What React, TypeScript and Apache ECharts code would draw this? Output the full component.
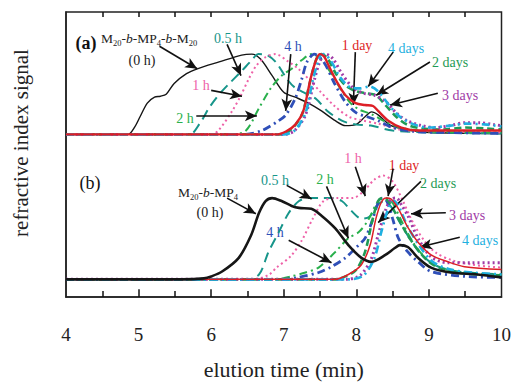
import React, { useEffect, useRef } from "react";
import * as echarts from "echarts";

const FONT = "'Liberation Serif', 'Times New Roman', serif";

// x axis
const X_MIN = 4;
const X_MAX = 10;
const Y_MAX = 291;
const MAJOR_TICKS = [5, 6, 7, 8, 9];
const MINOR_TICKS = [4.5, 5.5, 6.5, 7.5, 8.5, 9.5];

// panel offsets (signal units)
const BASE_A = 166;
const BASE_B = 18;

// ---------- panel (a): M20-b-MP4-b-M20 ----------
const a0h: number[][] = [[4,0],[4.85,0],[4.95,8],[5.02,18],[5.12,32],[5.22,38],[5.3,39],[5.38,41],[5.49,52],[5.66,62],[5.81,67],[6.11,74],[6.42,81],[6.56,82],[6.68,77],[6.84,60],[7.0,43],[7.16,38],[7.34,32],[7.52,24],[7.71,14],[7.85,9],[7.99,10],[8.12,18],[8.21,23],[8.3,20],[8.48,9],[8.75,4],[9.0,2],[10,1]];
const a05h: number[][] = [[4,0],[5.7,0],[5.85,12],[5.97,27],[6.1,40],[6.25,52],[6.41,64],[6.55,75],[6.65,82],[6.77,81],[6.9,73],[7.04,57],[7.15,48],[7.3,42],[7.45,36],[7.6,24],[7.8,14],[8.0,10],[8.2,9],[8.5,4],[9,2],[10,1]];
const a1h: number[][] = [[4,0],[6.0,0],[6.1,4],[6.29,24],[6.41,40],[6.52,57],[6.62,70],[6.75,79],[6.89,82],[7.05,75],[7.2,67],[7.35,56],[7.5,44],[7.7,29],[7.9,18],[8.1,14],[8.3,11],[8.6,5],[9,3],[10,2]];
const a2h: number[][] = [[4,0],[6.3,0],[6.48,4],[6.66,27],[6.82,47],[6.97,60],[7.11,67],[7.25,76],[7.38,82],[7.5,78],[7.62,66],[7.77,48],[7.92,32],[8.05,25],[8.2,21],[8.4,13],[8.6,7],[9.0,3],[10,2]];
const a4h: number[][] = [[4,0],[6.45,0],[6.7,4],[6.93,14],[7.03,20],[7.16,37],[7.25,57],[7.32,74],[7.42,82],[7.55,74],[7.7,52],[7.85,33],[8.0,22],[8.15,18],[8.3,14],[8.5,7],[8.8,3],[9.2,2],[10,1]];
const a1d: number[][] = [[4,0],[6.9,0],[7.03,3],[7.16,10],[7.27,24],[7.37,57],[7.45,77],[7.5,82],[7.56,79],[7.62,70],[7.73,54],[7.85,40],[7.99,32],[8.12,30],[8.23,29],[8.3,24],[8.44,14],[8.62,7],[8.85,4],[9.2,4],[9.6,4],[10,4]];
const a2d: number[][] = [[4,0],[6.95,0],[7.1,5],[7.25,20],[7.35,50],[7.45,77],[7.52,82],[7.6,78],[7.72,62],[7.85,50],[8.0,44],[8.15,42],[8.27,40],[8.4,30],[8.55,18],[8.7,10],[8.9,6],[9.2,5],[9.5,7],[9.8,6],[10,5]];
const a3d: number[][] = [[4,0],[7.0,0],[7.15,4],[7.3,20],[7.42,55],[7.5,75],[7.58,82],[7.68,77],[7.8,62],[7.95,48],[8.1,42],[8.25,40],[8.4,34],[8.55,22],[8.7,14],[8.9,9],[9.1,7],[9.3,9],[9.5,12],[9.7,12],[9.9,10],[10,9]];
const a4d: number[][] = [[4,0],[7.0,0],[7.15,4],[7.3,22],[7.4,55],[7.5,80],[7.55,82],[7.65,75],[7.78,58],[7.92,48],[8.05,47],[8.18,49],[8.3,44],[8.45,30],[8.6,18],[8.8,10],[9.0,7],[9.3,9],[9.5,11],[9.8,10],[10,8]];

// ---------- panel (b): M20-b-MP4 ----------
const b0h: number[][] = [[4,0],[5.6,0],[5.9,1],[6.0,3],[6.15,8],[6.38,22],[6.55,45],[6.66,68],[6.75,80],[6.84,83],[6.97,80],[7.11,75],[7.21,73],[7.38,72],[7.52,65],[7.71,52],[7.89,35],[8.07,22],[8.21,18],[8.4,25],[8.53,32],[8.6,35],[8.71,33],[8.85,22],[9.03,12],[9.3,7],[9.67,5],[10,2]];
const b05h: number[][] = [[4,0],[6.5,0],[6.66,5],[6.79,28],[6.93,48],[7.07,68],[7.21,80],[7.35,83],[7.5,83],[7.65,83],[7.8,80],[7.93,70],[8.07,62],[8.18,64],[8.28,75],[8.38,80],[8.48,74],[8.6,58],[8.75,40],[8.9,25],[9.1,14],[9.4,8],[10,5]];
const b1h: number[][] = [[4,0],[6.6,0],[6.8,5],[6.9,12],[7.1,24],[7.25,40],[7.4,62],[7.55,80],[7.75,83],[7.95,83],[8.1,90],[8.25,102],[8.37,106],[8.5,100],[8.63,82],[8.78,58],[8.95,38],[9.1,27],[9.3,20],[9.6,15],[10,12]];
const b2h: number[][] = [[4,0],[6.9,0],[7.1,3],[7.3,7],[7.48,12],[7.71,28],[7.89,42],[8.03,48],[8.16,60],[8.26,75],[8.33,82],[8.41,83],[8.5,78],[8.62,60],[8.78,38],[8.95,22],[9.15,12],[9.5,7],[10,5]];
const b4h: number[][] = [[4,0],[7.0,0],[7.2,2],[7.48,7],[7.66,13],[7.85,22],[7.99,32],[8.12,42],[8.21,58],[8.3,78],[8.36,83],[8.42,80],[8.5,62],[8.58,42],[8.71,28],[8.85,18],[9.03,8],[9.5,3],[10,2]];
const b1d: number[][] = [[4,0],[7.7,0],[7.89,5],[8.07,15],[8.19,35],[8.27,62],[8.34,78],[8.41,83],[8.48,82],[8.58,72],[8.71,53],[8.85,38],[9.03,25],[9.26,18],[9.49,13],[10,10]];
const b2d: number[][] = [[4,0],[7.7,0],[7.85,3],[8.0,10],[8.12,28],[8.22,60],[8.3,80],[8.36,83],[8.44,80],[8.55,66],[8.7,46],[8.85,30],[9.0,18],[9.2,10],[9.5,6],[10,4]];
const b3d: number[][] = [[4,0],[7.85,0],[8.05,4],[8.2,20],[8.3,45],[8.4,70],[8.48,82],[8.55,83],[8.63,75],[8.71,65],[8.85,42],[9.03,23],[9.26,17],[9.6,17],[10,17]];
const b4d: number[][] = [[4,0],[7.9,0],[8.1,4],[8.25,22],[8.35,50],[8.45,74],[8.52,80],[8.6,72],[8.7,55],[8.88,33],[9.05,18],[9.3,10],[9.6,7],[10,5]];

// ---------- styles ----------
const C_BLACK = "#161616";
const C_TEAL = "#17958a";
const C_PINK = "#ee62a8";
const C_GREEN2H = "#29b04c";
const C_BLUE = "#2f4fb8";
const C_RED = "#dd1f26";
const C_GREEN2D = "#1f9a55";
const C_PURPLE = "#a03aa6";
const C_CYAN = "#1fb0e0";

const DASH_LONG = [10, 6];
const DOT = [2, 3];
const DASH_DOT = [8, 4, 2, 4];
const DASH_MED = [7, 4];

type Sty = { color: string; width: number; dash: any };
const sty: Record<string, Sty> = {
  "0h": { color: C_BLACK, width: 1.4, dash: "solid" },
  "0.5h": { color: C_TEAL, width: 2, dash: DASH_LONG },
  "1h": { color: C_PINK, width: 2, dash: DOT },
  "2h": { color: C_GREEN2H, width: 2, dash: DASH_DOT },
  "4h": { color: C_BLUE, width: 2.8, dash: DASH_DOT },
  "1d": { color: C_RED, width: 2.4, dash: "solid" },
  "2d": { color: C_GREEN2D, width: 2.6, dash: DASH_MED },
  "3d": { color: C_PURPLE, width: 3, dash: DOT },
  "4d": { color: C_CYAN, width: 2.6, dash: DASH_DOT },
};

// annotation arrows in data coordinates: [x1, y1, x2, y2]
const arrowsA: number[][] = [
  [5.288, 256, 5.808, 233],
  [6.219, 258, 6.411, 226],
  [6.0, 211, 6.425, 205],
  [5.795, 185, 6.63, 185],
  [7.096, 248, 7.027, 190],
  [7.986, 250, 7.959, 196],
  [8.507, 250, 8.164, 215],
  [9.014, 240, 8.274, 206],
  [9.123, 208, 8.466, 196],
];
const arrowsB: number[][] = [
  [6.219, 101, 6.616, 85],
  [7.041, 114, 7.384, 100],
  [7.068, 58, 7.658, 35],
  [7.589, 113, 7.89, 60],
  [7.986, 133, 8.123, 103],
  [8.507, 131, 8.438, 103],
  [8.89, 118, 8.301, 76],
  [9.233, 86, 8.753, 85],
  [9.425, 61, 8.877, 51],
];

function mkSeries(key: string, data: number[][], base: number, z: number, widthOverride?: number) {
  const s = sty[key];
  return {
    type: "line",
    data: data.map(([t, h]) => [t, base + h]),
    smooth: 0.3,
    showSymbol: false,
    symbol: "none",
    silent: true,
    z,
    lineStyle: { color: s.color, width: widthOverride ?? s.width, type: s.dash },
  };
}

function txt(x: number, y: number, text: string, color: string, size = 14, weight = "normal", rotation = 0) {
  return {
    type: "text",
    x,
    y,
    rotation,
    style: {
      text,
      fill: color,
      font: `${weight} ${size}px ${FONT}`,
      align: "center",
      verticalAlign: "middle",
    },
  };
}

function formula(x: number, y: number, text: string) {
  return {
    type: "text",
    x,
    y,
    style: {
      text,
      fill: "#222",
      font: `13px ${FONT}`,
      align: "left",
      verticalAlign: "middle",
      rich: {
        n: { fontSize: 13.5, fontFamily: FONT, color: "#222", lineHeight: 18, verticalAlign: "middle" },
        i: { fontSize: 13.5, fontFamily: FONT, color: "#222", fontStyle: "italic", lineHeight: 18, verticalAlign: "middle" },
        s: { fontSize: 8.5, fontFamily: FONT, color: "#222", lineHeight: 18, verticalAlign: "bottom", padding: [8, 0, 0, 0] },
      },
    },
  };
}

function helperSeries(segments: number[][], symbols: string[], size: number[], width: number) {
  return {
    type: "line",
    data: [[X_MIN, 0]],
    showSymbol: false,
    symbol: "none",
    silent: true,
    lineStyle: { opacity: 0 },
    z: 10,
    markLine: {
      silent: true,
      animation: false,
      symbol: symbols,
      symbolSize: size,
      label: { show: false },
      lineStyle: { color: "#111", width, type: "solid" },
      data: segments.map(([x1, y1, x2, y2]) => [{ coord: [x1, y1] }, { coord: [x2, y2] }]),
    },
  };
}

export default function App() {
  const ref = useRef<HTMLDivElement>(null);
  useEffect(() => {
    if (!ref.current) return;
    const chart = echarts.init(ref.current, undefined, { renderer: "svg" });
    const seriesA = [
      mkSeries("0h", a0h, BASE_A, 2),
      mkSeries("0.5h", a05h, BASE_A, 3),
      mkSeries("1h", a1h, BASE_A, 3),
      mkSeries("2h", a2h, BASE_A, 3),
      mkSeries("4h", a4h, BASE_A, 4),
      mkSeries("2d", a2d, BASE_A, 4),
      mkSeries("3d", a3d, BASE_A, 4),
      mkSeries("4d", a4d, BASE_A, 5),
      mkSeries("1d", a1d, BASE_A, 6),
    ];
    const seriesB = [
      mkSeries("0.5h", b05h, BASE_B, 3),
      mkSeries("1h", b1h, BASE_B, 3),
      mkSeries("2h", b2h, BASE_B, 3),
      mkSeries("4h", b4h, BASE_B, 4),
      mkSeries("2d", b2d, BASE_B, 4),
      mkSeries("3d", b3d, BASE_B, 4),
      mkSeries("4d", b4d, BASE_B, 5),
      mkSeries("1d", b1d, BASE_B, 6, 1.5),
      mkSeries("0h", b0h, BASE_B, 7, 2.6),
    ];
    const arrowSeries = helperSeries([...arrowsA, ...arrowsB], ["none", "arrow"], [8, 12], 1.6);
    // inward tick marks (bottom: major 8, minor 6; top: every 0.5, length 5)
    const tickSegs: number[][] = [
      ...MAJOR_TICKS.map((t) => [t, 0, t, 8]),
      ...MINOR_TICKS.map((t) => [t, 0, t, 6]),
      ...[...MAJOR_TICKS, ...MINOR_TICKS].map((t) => [t, Y_MAX, t, Y_MAX - 5]),
    ];
    const tickSeries = helperSeries(tickSegs, ["none", "none"], [0, 0], 1.5);

    const axisLine = { show: true, onZero: false, lineStyle: { color: "#222", width: 1.5 } };
    chart.setOption({
      animation: false,
      grid: { left: 66, right: 10, top: 12, bottom: 82, show: true, borderColor: "#222", borderWidth: 1.5, backgroundColor: "transparent" },
      xAxis: [
        {
          type: "value",
          min: X_MIN,
          max: X_MAX,
          interval: 1,
          position: "bottom",
          axisLine,
          axisTick: { show: false },
          splitLine: { show: false },
          axisLabel: { fontSize: 19, fontFamily: FONT, color: "#222", margin: 28 },
          name: "elution time (min)",
          nameLocation: "middle",
          nameGap: 61,
          nameTextStyle: { fontSize: 22, fontFamily: FONT, color: "#222" },
        },
      ],
      yAxis: {
        type: "value",
        min: 0,
        max: Y_MAX,
        position: "left",
        axisLine,
        axisTick: { show: false },
        axisLabel: { show: false },
        splitLine: { show: false },
      },
      series: [...seriesA, ...seriesB, arrowSeries, tickSeries],
      graphic: [
        txt(21, 143, "refractive index signal", "#222", 21, "normal", Math.PI / 2),
        // panel (a)
        txt(86, 43, "(a)", "#111", 18, "bold"),
        formula(101, 38, "{n|M}{s|20}{n|-}{i|b}{n|-MP}{s|4}{n|-}{i|b}{n|-M}{s|20}"),
        txt(142, 60, "(0 h)", "#222", 14),
        txt(228, 38, "0.5 h", C_TEAL, 14),
        txt(201, 85, "1 h", C_PINK, 14),
        txt(185, 118, "2 h", C_GREEN2H, 14),
        txt(293, 46, "4 h", C_BLUE, 14),
        txt(357, 45, "1 day", C_RED, 14),
        txt(406, 48, "4 days", C_CYAN, 14),
        txt(450, 62, "2 days", C_GREEN2D, 14),
        txt(460, 95, "3 days", C_PURPLE, 14),
        // panel (b)
        txt(90, 183, "(b)", "#111", 18),
        formula(178, 192, "{n|M}{s|20}{n|-}{i|b}{n|-MP}{s|4}"),
        txt(210, 212, "(0 h)", "#222", 14),
        txt(275, 180, "0.5 h", C_TEAL, 14),
        txt(275, 232, "4 h", C_BLUE, 14),
        txt(325, 179, "2 h", C_GREEN2H, 14),
        txt(353, 158, "1 h", C_PINK, 14),
        txt(404, 165, "1 day", C_RED, 14),
        txt(438, 183, "2 days", C_GREEN2D, 14),
        txt(467, 215, "3 days", C_PURPLE, 14),
        txt(480, 240, "4 days", C_CYAN, 14),
      ],
    });
    return () => chart.dispose();
  }, []);
  return <div ref={ref} style={{ width: 514, height: 385, position: "absolute", left: 0, top: 0 }} />;
}
